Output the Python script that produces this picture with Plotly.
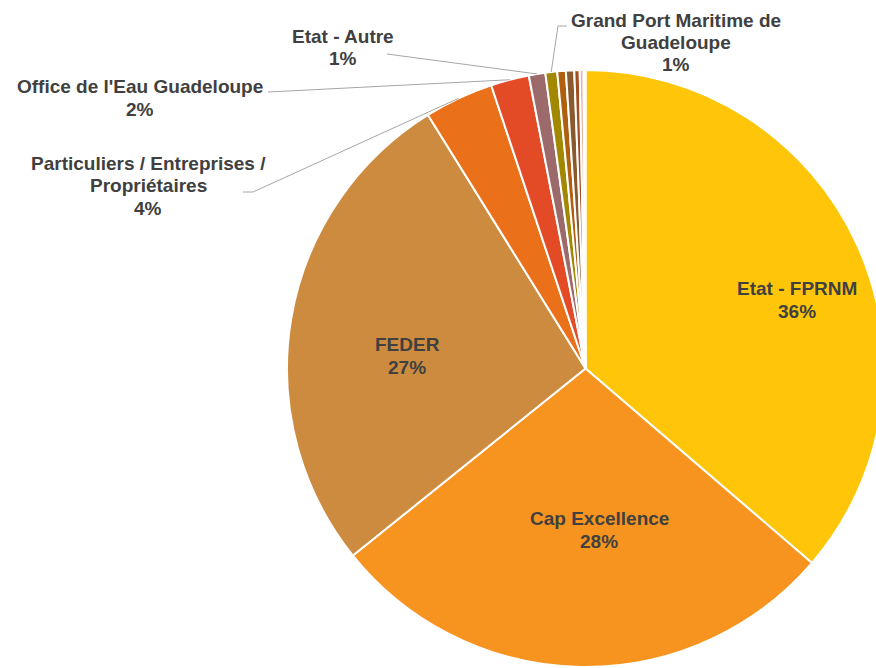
import math
import plotly.graph_objects as go

# ---- data ----
labels = ["Etat - FPRNM", "Cap Excellence", "FEDER",
          "Particuliers / Entreprises / Propriétaires",
          "Office de l'Eau Guadeloupe", "Etat - Autre",
          "Grand Port Maritime de Guadeloupe",
          "Autre financeur A", "Autre financeur B", "Autre financeur C",
          "Autre financeur D", "Autre financeur E"]
values = [36.25, 27.9, 26.9, 3.73, 2.07, 0.89, 0.64, 0.46, 0.45, 0.29, 0.21, 0.10]
label_lines = [["Etat - FPRNM"], ["Cap Excellence"], ["FEDER"],
               ["Particuliers / Entreprises /", "Propriétaires"],
               ["Office de l'Eau Guadeloupe"], ["Etat - Autre"],
               ["Grand Port Maritime de", "Guadeloupe"],
               None, None, None, None, None]
colors = ["#FFC609", "#F7941F", "#CD8B3F", "#EA7119", "#E34B26", "#9D6A6C",
          "#A18800", "#B15F0F", "#8A5A2E", "#A24E22", "#E8B4A8", "#F3E0D0"]

# ---- layout constants (pixel positions measured on the page) ----
W, H = 884, 668
CX, CY, R = 585.5, 368.5, 298.5
dom_x = [(CX - R) / W, min(1.0, (CX + R) / W)]
dom_y = [max(0.0, 1 - (CY + R) / H), 1 - (CY - R) / H]
LINE_GAP = 22.5

label_pos = {
    0: (797, 300),
    1: (599, 530),
    2: (407, 356),
    3: (148, 186),
    4: (140, 98),
    5: (343, 47.5),
    6: (676, 42.5),
}
leader_start = {
    3: [(243, 192), (253, 192)],
    4: [(268, 92)],
    5: [(387, 54)],
    6: [(567, 26), (558, 26)],
}

FONT = dict(family="Liberation Sans, Arial, sans-serif", size=19, color="#404040", weight="bold")


def px(x):
    return x / W


def py(y):
    return 1 - y / H


fig = go.Figure(go.Pie(
    labels=labels, values=values, sort=False, direction="clockwise", rotation=0,
    marker=dict(colors=colors, line=dict(color="white", width=2)),
    textinfo="none", hoverinfo="label+percent", showlegend=False,
    domain=dict(x=dom_x, y=dom_y),
))

total = sum(values)
cum = 0.0
annotations = []
shapes = []
for i, v in enumerate(values):
    mid = (cum + v / 2) / total * 2 * math.pi
    cum += v
    if label_lines[i] is None:
        continue
    pct = round(v / total * 100)
    lines = label_lines[i] + [f"{pct}%"]
    lx, ly = label_pos[i]
    n = len(lines)
    for k, t in enumerate(lines):
        yy = ly + (k - (n - 1) / 2) * LINE_GAP
        annotations.append(dict(
            x=px(lx), y=py(yy), xref="paper", yref="paper",
            text=t, showarrow=False,
            xanchor="center", yanchor="middle", align="center", font=FONT))
    if i in leader_start:
        rx = CX + R * math.sin(mid)
        ry = CY - R * math.cos(mid)
        pts = leader_start[i] + [(rx, ry)]
        path = "M " + " L ".join(f"{px(x)},{py(y)}" for x, y in pts)
        shapes.append(dict(type="path", path=path, xref="paper", yref="paper",
                           line=dict(color="#A6A6A6", width=1)))

fig.update_layout(
    width=W, height=H, margin=dict(l=0, r=0, t=0, b=0),
    paper_bgcolor="white", plot_bgcolor="white",
    annotations=annotations, shapes=shapes,
)

fig.write_html(
    "out.html",
    config={"displayModeBar": False},
    post_script="document.documentElement.style.overflow='hidden';"
                "document.body.style.margin='0';",
)
